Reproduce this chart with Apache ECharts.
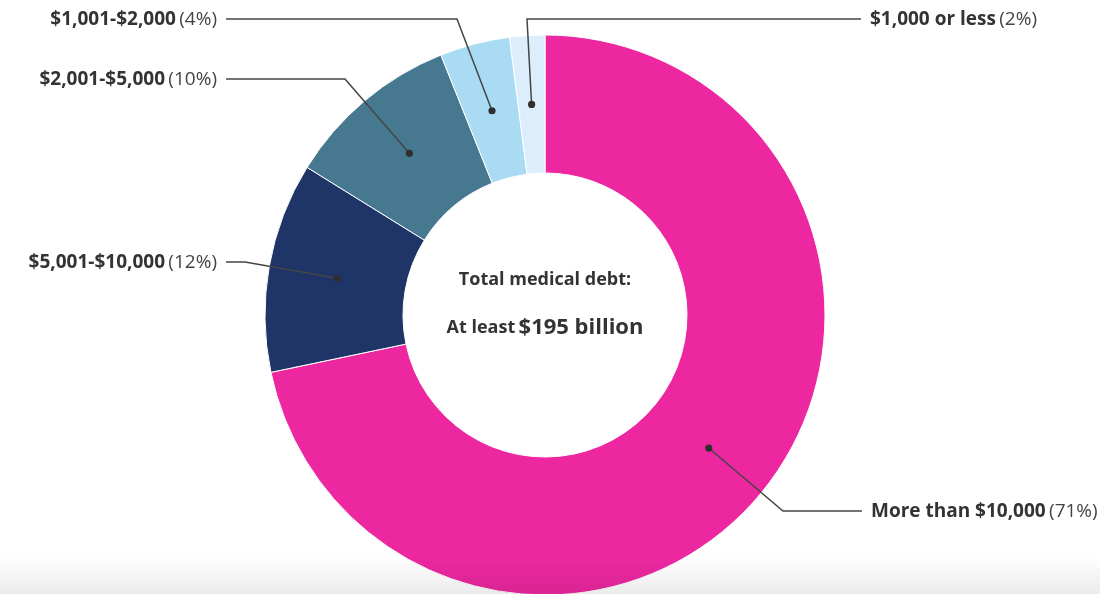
<!DOCTYPE html>
<html>
<head>
<meta charset="utf-8">
<script src="https://cdn.jsdelivr.net/npm/echarts@6/dist/echarts.min.js"></script>
<style>
  html, body { margin: 0; padding: 0; background: #ffffff; }
  #chart { width: 1100px; height: 594px; }
</style>
</head>
<body>
<div id="chart"></div>
<script>
// Medical debt by balance size, share of total dollars (%)
const categories = ['More than $10,000', '$5,001-$10,000', '$2,001-$5,000', '$1,001-$2,000', '$1,000 or less'];
const shares = [71, 12, 10, 4, 2];
const colors = ['#EC27A0', '#1F3467', '#46788F', '#A9DBF3', '#DCEEFB'];
const centerTitle = 'Total medical debt:';
const centerLead = 'At least';
const centerAmount = '$195 billion';

// Callout text placement and leader-line bend for each slice
const callouts = [
  { x: 871, y: 512, align: 'left',  elbow: [783, 511], end: [862, 511] },
  { x: 217, y: 263, align: 'right', elbow: [245, 262], end: [226, 262] },
  { x: 217, y: 80,  align: 'right', elbow: [345, 79],  end: [226, 79] },
  { x: 217, y: 20,  align: 'right', elbow: [457, 19],  end: [226, 19] },
  { x: 870, y: 20,  align: 'left',  elbow: [527, 19],  end: [861, 19] }
];

const FONT = '"Open Sans", Lato, sans-serif';
const chart = echarts.init(document.getElementById('chart'), null, { renderer: 'canvas' });

// Point in the middle of a slice's ring, taken from the pie's own layout
function sliceAnchor(i) {
  const data = chart.getModel().getSeriesByIndex(0).getData();
  const l = data.getItemLayout(i);
  const mid = (l.startAngle + l.endAngle) / 2;
  const rm = (l.r + l.r0) / 2;
  return [l.cx + rm * Math.cos(mid), l.cy + rm * Math.sin(mid)];
}

chart.setOption({
  animation: false,
  backgroundColor: '#ffffff',
  series: [{
    type: 'pie',
    center: [545, 315],
    radius: [142, 280],
    startAngle: 90,
    clockwise: true,
    avoidLabelOverlap: false,
    emphasis: { disabled: true },
    silent: true,
    itemStyle: { borderColor: '#ffffff', borderWidth: 1 },
    data: categories.map((name, i) => ({
      name: name,
      value: shares[i],
      itemStyle: { color: colors[i] }
    })),
    label: {
      show: true,
      position: 'outside',
      formatter: p => '{b|' + p.name + '} {p|(' + p.value + '%)}',
      rich: {
        b: { fontFamily: FONT, fontWeight: 'bold', fontSize: 19, color: '#333333' },
        p: { fontFamily: FONT, fontWeight: 'normal', fontSize: 19, color: '#444444' }
      }
    },
    labelLine: { show: false },
    labelLayout: function (params) {
      const c = callouts[params.dataIndex];
      return { x: c.x, y: c.y, align: c.align, verticalAlign: 'middle' };
    }
  }]
});

// Leader lines from each slice's anchor, with a dot at the anchor
const leaders = [];
categories.forEach((_, i) => {
  const p = sliceAnchor(i);
  const c = callouts[i];
  leaders.push({
    type: 'polyline',
    z: 40,
    silent: true,
    shape: { points: [p, c.elbow, c.end] },
    style: { stroke: '#454545', lineWidth: 1.5, fill: null }
  });
  leaders.push({
    type: 'circle',
    z: 50,
    silent: true,
    shape: { cx: p[0], cy: p[1], r: 3.6 },
    style: { fill: '#2f2f2f' }
  });
});

chart.setOption({
  graphic: leaders.concat([
    {
      type: 'text',
      z: 50,
      silent: true,
      style: {
        text: centerTitle,
        x: 545, y: 280,
        align: 'center', verticalAlign: 'middle',
        font: 'bold 18px ' + FONT,
        fill: '#333333'
      }
    },
    {
      type: 'text',
      z: 50,
      silent: true,
      style: {
        text: '{a|' + centerLead + '} {b|' + centerAmount + '}',
        x: 545, y: 328,
        align: 'center', verticalAlign: 'middle',
        rich: {
          a: { fontFamily: FONT, fontWeight: 'bold', fontSize: 18, fill: '#333333' },
          b: { fontFamily: FONT, fontWeight: 'bold', fontSize: 22, fill: '#333333' }
        }
      }
    },
    {
      type: 'rect',
      z: 100,
      silent: true,
      shape: { x: 0, y: 556, width: 1100, height: 38 },
      style: {
        fill: new echarts.graphic.LinearGradient(0, 0, 0, 1, [
          { offset: 0, color: 'rgba(0,0,0,0)' },
          { offset: 1, color: 'rgba(0,0,0,0.08)' }
        ])
      }
    }
  ])
});
</script>
</body>
</html>
